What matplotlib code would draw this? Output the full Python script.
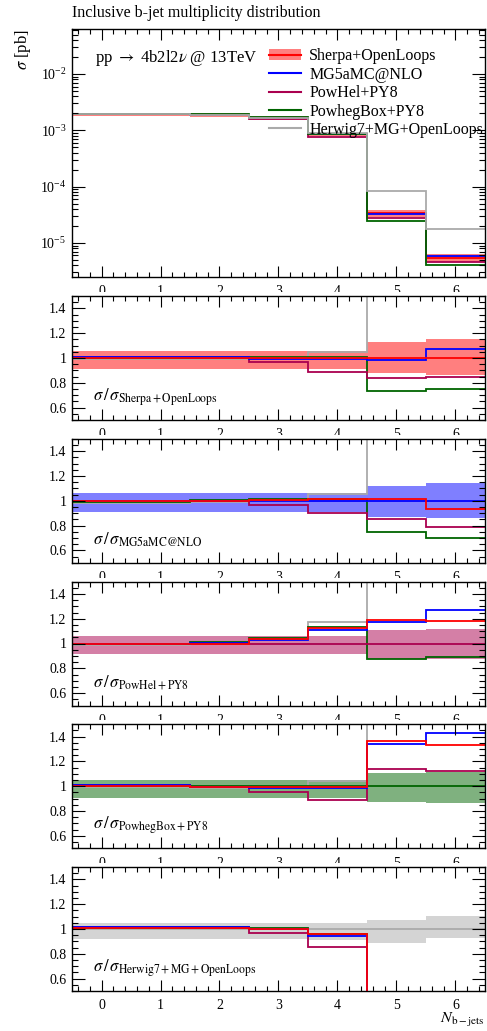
import numpy as np
import matplotlib
matplotlib.use("Agg")
import matplotlib.pyplot as plt
from matplotlib.patches import Patch, Rectangle
from matplotlib.lines import Line2D
from matplotlib.ticker import MultipleLocator, LogLocator, NullFormatter

plt.rcParams["font.family"] = "serif"
plt.rcParams["font.serif"] = ["Liberation Serif", "DejaVu Serif"]
plt.rcParams["mathtext.fontset"] = "stix"

# bins: N b-jets = 0 .. 6
edges = np.arange(-0.5, 7.0, 1.0)
nbjets = [0, 1, 2, 3, 4, 5, 6]

names = ["Sherpa+OpenLoops", "MG5aMC@NLO", "PowHel+PY8", "PowhegBox+PY8",
         "Herwig7+MG+OpenLoops"]
colors = ["#ff0000", "#0000ff", "#aa004f", "#006400", "#aaaaaa"]

# cross sections [pb]
sherpa = [1.95e-3, 1.95e-3, 1.90e-3, 1.68e-3, 8.60e-4, 3.35e-5, 5.40e-6]
mg5 = [1.960e-3, 1.960e-3, 1.910e-3, 1.672e-3, 8.51e-4, 3.30e-5, 5.78e-6]
powhel = [1.960e-3, 1.960e-3, 1.900e-3, 1.621e-3, 7.65e-4, 2.81e-5, 4.56e-6]
powhegbox = [1.946e-3, 1.946e-3, 1.919e-3, 1.693e-3, 8.64e-4, 2.46e-5, 4.05e-6]
herwig = [1.931e-3, 1.931e-3, 1.885e-3, 1.675e-3, 8.99e-4, 8.21e-5, 1.75e-5]

# relative uncertainty bands (up, down)
sherpa_up = [0.060, 0.060, 0.060, 0.060, 0.060, 0.133, 0.155]
sherpa_dn = [0.085, 0.085, 0.085, 0.085, 0.085, 0.120, 0.140]
mg5_up = [0.059, 0.059, 0.059, 0.059, 0.059, 0.117, 0.147]
mg5_dn = [0.091, 0.091, 0.091, 0.091, 0.091, 0.133, 0.139]
powhel_up = [0.059, 0.059, 0.059, 0.059, 0.059, 0.107, 0.120]
powhel_dn = [0.088, 0.088, 0.088, 0.088, 0.088, 0.125, 0.128]
powhegbox_up = [0.053, 0.053, 0.053, 0.053, 0.053, 0.107, 0.115]
powhegbox_dn = [0.091, 0.091, 0.091, 0.091, 0.091, 0.125, 0.133]
herwig_up = [0.049, 0.049, 0.049, 0.049, 0.049, 0.071, 0.104]
herwig_dn = [0.079, 0.079, 0.079, 0.079, 0.087, 0.110, 0.074]

values = [sherpa, mg5, powhel, powhegbox, herwig]
ups = [sherpa_up, mg5_up, powhel_up, powhegbox_up, herwig_up]
dns = [sherpa_dn, mg5_dn, powhel_dn, powhegbox_dn, herwig_dn]

W, H = 487, 1031
fig = plt.figure(figsize=(W / 100, H / 100), dpi=100)

left, width = 72, 413


def add_ax(top, height):
    return fig.add_axes([left / W, 1 - (top + height) / H, width / W, height / H])


def style(ax):
    ax.set_xlim(-0.5, 6.5)
    ax.set_xticks(nbjets)
    ax.xaxis.set_minor_locator(MultipleLocator(0.2))
    ax.tick_params(which="both", direction="in", top=True, right=True,
                   labelsize=10, width=0.8)
    ax.tick_params(axis="x", which="major", length=8, pad=6)
    ax.tick_params(axis="x", which="minor", length=3.8)
    ax.tick_params(axis="y", which="major", length=9.5, pad=4)
    ax.tick_params(axis="y", which="minor", length=4.5)
    for sp in ax.spines.values():
        sp.set_linewidth(1.0)


def band(ax, lo, hi, color):
    for i in range(len(lo)):
        ax.fill_between(edges[i:i + 2], lo[i], hi[i], color=color, alpha=0.5,
                        lw=0)


def clip_xlabels(ax, y_top_px):
    # the tick labels are cut by the panel below
    y0 = 1 - y_top_px / H
    bb = ax.get_position()
    rect = Rectangle((0, y0), 1, bb.y0 - y0, transform=fig.transFigure)
    for lab in ax.get_xticklabels():
        lab.set_clip_on(True)
        lab.set_clip_path(rect)


# main panel
ax = add_ax(29, 248)
style(ax)
ax.set_yscale("log")
ax.set_ylim(10 ** -5.605, 10 ** -1.2)
ax.yaxis.set_minor_locator(LogLocator(base=10, subs=np.arange(2, 10)))
ax.yaxis.set_minor_formatter(NullFormatter())
ax.set_yticks([1e-5, 1e-4, 1e-3, 1e-2])

s = np.array(sherpa)
band(ax, s * (1 - np.array(sherpa_dn)), s * (1 + np.array(sherpa_up)), colors[0])
for v, c in zip(values, colors):
    ax.stairs(v, edges, baseline=None, color=c, lw=1.3)

ax.set_title("Inclusive b-jet multiplicity distribution", loc="left",
             fontsize=11.5, pad=8.5, x=0.0)
ax.set_ylabel(r"$\sigma$ [pb]", loc="top", fontsize=12, labelpad=5)
ax.text(0.055, 0.885, r"pp $\rightarrow$ 4b2l2$\nu$ @ 13TeV",
        transform=ax.transAxes, fontsize=12, va="center")

handles = [(Patch(facecolor=colors[0], alpha=0.5, lw=0),
            Line2D([], [], color=colors[0], lw=1.5))]
handles += [Line2D([], [], color=c, lw=1.5) for c in colors[1:]]
ax.legend(handles, names, loc="upper left", bbox_to_anchor=(0.478, 0.922),
          frameon=False, fontsize=11.5, handlelength=2.0, handletextpad=0.5,
          labelspacing=0.15, borderpad=0, borderaxespad=0)
clip_xlabels(ax, 292)

# ratio panels
ref_labels = [r"$\sigma\,/\,\sigma_{\mathrm{Sherpa+OpenLoops}}$",
              r"$\sigma\,/\,\sigma_{\mathrm{MG5aMC@NLO}}$",
              r"$\sigma\,/\,\sigma_{\mathrm{PowHel+PY8}}$",
              r"$\sigma\,/\,\sigma_{\mathrm{PowhegBox+PY8}}$",
              r"$\sigma\,/\,\sigma_{\mathrm{Herwig7+MG+OpenLoops}}$"]

for k in range(5):
    top = 296 + 142.75 * k
    rax = add_ax(top, 124)
    style(rax)
    rax.set_ylim(0.5, 1.5)
    rax.set_yticks([0.6, 0.8, 1.0, 1.2, 1.4])
    rax.set_yticklabels(["0.6", "0.8", "1", "1.2", "1.4"])
    rax.yaxis.set_minor_locator(MultipleLocator(0.05))
    ref = np.array(values[k])
    band(rax, 1 - np.array(dns[k]), 1 + np.array(ups[k]), colors[k])
    for v, c in list(zip(values, colors))[::-1]:
        rax.stairs(np.array(v) / ref, edges, baseline=None, color=c, lw=1.3)
    rax.text(0.05, 0.185, ref_labels[k], transform=rax.transAxes,
             fontsize=12, va="center")
    if k < 4:
        clip_xlabels(rax, top + 142.75 - 4)
    else:
        rax.set_xlabel(r"$N_{\mathrm{b-jets}}$", loc="right", fontsize=11.5,
                       labelpad=-1)

fig.savefig("out.png", dpi=100)
